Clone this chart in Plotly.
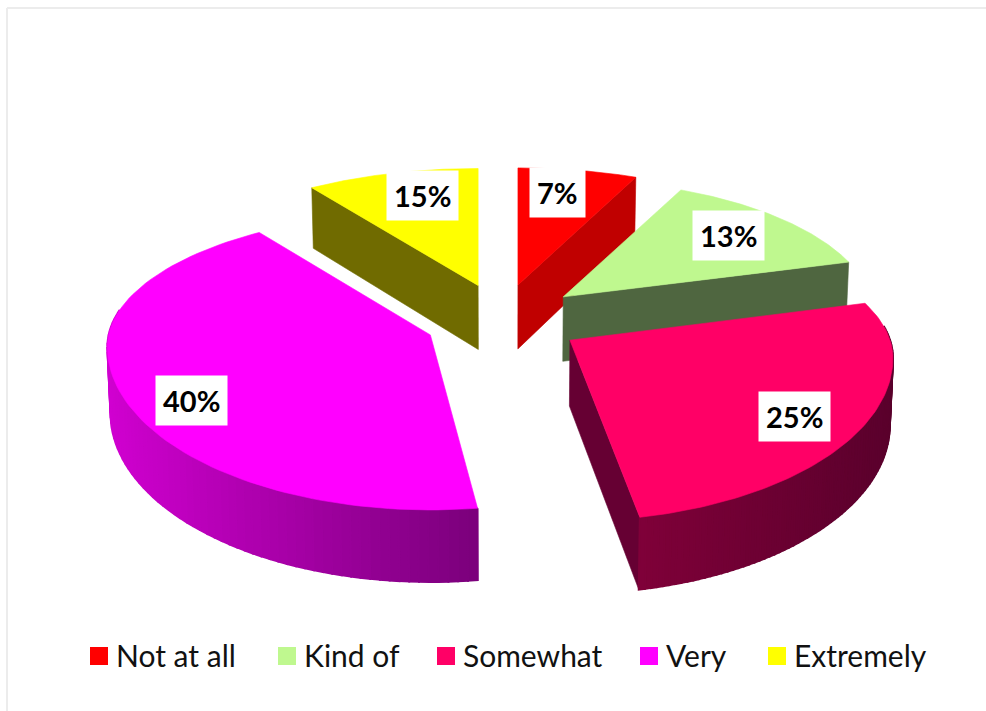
import numpy as np
import plotly.graph_objects as go

# Survey answers and their shares, in percent
CATEGORIES = ["Not at all", "Kind of", "Somewhat", "Very", "Extremely"]
SHARES = [7, 13, 25, 40, 15]

# Fill colours of each slice
TOP_COLORS = ["#ff0000", "#bff88f", "#ff0066", "#ff00ff", "#ffff00"]
CUT_COLORS = ["#c00000", "#4f6640", "#660033", None, "#706b00"]
CUT_SIDE = ["end", "end", "end", None, "start"]
RIM_COLORS = [None, None, ("#800039", "#5a002c"), ("#d000d0", "#7c007c"), None]

# Layout of the tilted, exploded pie (all in pixels)
CENTER = (504, 322)
PULLS = [(64, 38), (79, 38), (74, 40), (91, 22), (57, 41)]
RADIUS_X = 323
RADIUS_SCALE = [1, 0.96, 1, 1, 1]
RADIUS_BACK = 135
RADIUS_FRONT = 163
APEX_OFFSETS = [18, 18, 18, 12, 18]
EDGE_TRIMS = [(0, 0), (0.9, 3), (2, -2.5), (1.6, -1), (0, 0)]
LABEL_CENTERS = [(557, 192), (728, 235), (794, 416), (191, 400), (422, 195)]
DRAW_ORDER = [4, 0, 1, 2, 3]

# Legend row
LEGEND_X = [99, 287, 446, 649, 777]
LEGEND_Y = 655
LEGEND_TEXT_GAP = 15

# Foreshortening of pie angles under the chart's perspective
ANGLE_IN = [0, 25.2, 72, 162, 306, 360]
ANGLE_OUT = [0, 21.4, 64, 170, 329, 360]


def rim_curve(theta, apex, i):
    u = (theta - theta[0]) / (theta[-1] - theta[0])
    trim = EDGE_TRIMS[i][0] + (EDGE_TRIMS[i][1] - EDGE_TRIMS[i][0]) * u
    phi = np.radians(np.interp(theta, ANGLE_IN, ANGLE_OUT) + trim)
    c = np.cos(phi)
    b = np.where(c > 0, RADIUS_BACK, RADIUS_FRONT)
    return apex[0] + RADIUS_X * RADIUS_SCALE[i] * np.sin(phi), apex[1] + APEX_OFFSETS[i] - b * c, c


def drop(x, y):
    """Project a point of the top face onto the bottom face."""
    return CENTER[0] + (x - CENTER[0]) * 0.992, y + 64 + (y - 285) * 8 / 225


def polygon(fig, xs, ys, color, width=0.6):
    fig.add_trace(go.Scatter(
        x=xs, y=ys, mode="lines", fill="toself", fillcolor=color,
        line=dict(color=color, width=width), hoverinfo="skip", showlegend=False,
    ))


def mix(pair, t):
    a = [int(pair[0][i:i + 2], 16) for i in (1, 3, 5)]
    b = [int(pair[1][i:i + 2], 16) for i in (1, 3, 5)]
    return "rgb({},{},{})".format(*[round(u + (v - u) * t) for u, v in zip(a, b)])


edges = np.cumsum([0] + SHARES) / sum(SHARES) * 360
fig = go.Figure()

for i in DRAW_ORDER:
    start, end = edges[i], edges[i + 1]
    mid = np.radians((start + end) / 2)
    apex = (CENTER[0] + PULLS[i][0] * np.sin(mid), CENTER[1] - PULLS[i][1] * np.cos(mid))
    theta = np.linspace(start, end, 90)
    rx, ry, cosine = rim_curve(theta, apex, i)

    # Cut face that stays in view
    if CUT_COLORS[i]:
        k = 0 if CUT_SIDE[i] == "start" else -1
        ax2, ay2 = drop(apex[0], apex[1])
        ex2, ey2 = drop(rx[k], ry[k])
        polygon(fig, [apex[0], rx[k], ex2, ax2, apex[0]], [apex[1], ry[k], ey2, ay2, apex[1]], CUT_COLORS[i])

    # Outer wall, shaded in narrow strips painted over one another
    if RIM_COLORS[i]:
        bx, by = drop(rx, ry)
        lo, hi = rx.min(), rx.max()
        for k in range(len(rx) - 1):
            if cosine[k] > 0.25:
                continue
            t = (rx[k] - lo) / (hi - lo)
            polygon(fig, [rx[k], rx[k + 1], bx[k + 1], bx[k], rx[k]],
                    [ry[k], ry[k + 1], by[k + 1], by[k], ry[k]], mix(RIM_COLORS[i], t), width=2)

    polygon(fig,
            np.concatenate([[apex[0]], rx, [apex[0]]]),
            np.concatenate([[apex[1]], ry, [apex[1]]]),
            TOP_COLORS[i])

# Legend swatches
for name, color, x in zip(CATEGORIES, TOP_COLORS, LEGEND_X):
    fig.add_trace(go.Scatter(
        x=[x], y=[LEGEND_Y + 1], mode="markers", name=name, showlegend=False, hoverinfo="name",
        marker=dict(symbol="square", size=18, color=color),
    ))

annotations = [
    dict(x=x, y=y, xref="x", yref="y", text=f"<b>{share}%</b>", showarrow=False,
         bgcolor="white", borderpad=7,
         font=dict(family="Lato, sans-serif", size=29, color="#000000"))
    for share, (x, y) in zip(SHARES, LABEL_CENTERS)
]
annotations += [
    dict(x=x + LEGEND_TEXT_GAP, y=LEGEND_Y, xref="x", yref="y", text=name, showarrow=False,
         xanchor="left", yanchor="middle",
         font=dict(family="Lato, sans-serif", size=30, color="#111111"))
    for name, x in zip(CATEGORIES, LEGEND_X)
]

fig.update_layout(
    width=986, height=711, margin=dict(l=0, r=0, t=0, b=0),
    paper_bgcolor="white", plot_bgcolor="white", showlegend=False,
    xaxis=dict(range=[0, 986], visible=False, fixedrange=True),
    yaxis=dict(range=[711, 0], visible=False, fixedrange=True),
    annotations=annotations,
    shapes=[
        dict(type="line", xref="x", yref="y", x0=7, x1=986, y0=8, y1=8, line=dict(color="#ececec", width=2)),
        dict(type="line", xref="x", yref="y", x0=7, x1=7, y0=8, y1=711, line=dict(color="#ececec", width=2)),
    ],
)

fig.write_html("out.html")
